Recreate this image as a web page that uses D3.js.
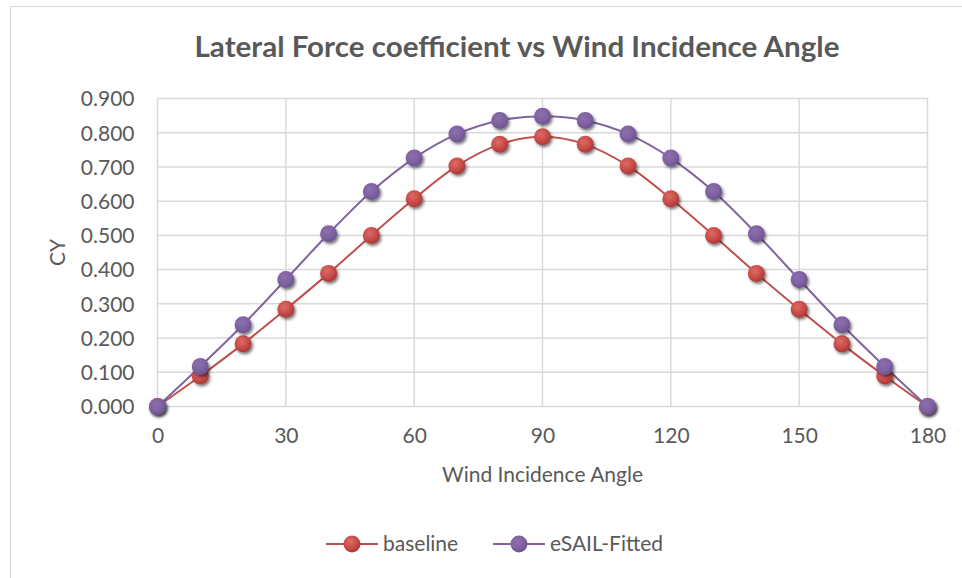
<!DOCTYPE html>
<html>
<head>
<meta charset="utf-8">
<script src="https://cdn.jsdelivr.net/npm/d3@7"></script>
<style>
  body { margin: 0; background: #fff; }
  text { font-family: Lato, "Open Sans", sans-serif; fill: #595959; }
</style>
</head>
<body>
<div id="chart"></div>
<script>
// chart data
var angles = [0, 10, 20, 30, 40, 50, 60, 70, 80, 90, 100, 110, 120, 130, 140, 150, 160, 170, 180];
var baseline = [0.000, 0.089, 0.183, 0.284, 0.389, 0.500, 0.607, 0.703, 0.766, 0.788, 0.766, 0.703, 0.607, 0.500, 0.389, 0.284, 0.183, 0.089, 0.000];
var esail = [0.000, 0.117, 0.239, 0.371, 0.505, 0.628, 0.726, 0.796, 0.836, 0.848, 0.836, 0.796, 0.726, 0.628, 0.505, 0.371, 0.239, 0.117, 0.000];
var xTicks = [0, 30, 60, 90, 120, 150, 180];
var yTicks = [0, 0.1, 0.2, 0.3, 0.4, 0.5, 0.6, 0.7, 0.8, 0.9];
var seriesNames = ["baseline", "eSAIL-Fitted"];

var svgWidth = 962;
var svgHeight = 578;

var margin = { top: 98.5, right: 34.5, bottom: 171.5, left: 157.5 };
var width = svgWidth - margin.left - margin.right;
var height = svgHeight - margin.top - margin.bottom;

var svg = d3.select("#chart")
  .append("svg")
  .attr("width", svgWidth)
  .attr("height", svgHeight);

// outer chart border (runs off the picture on the right/bottom)
svg.append("rect")
  .attr("x", 10.5)
  .attr("y", 6.5)
  .attr("width", 1000)
  .attr("height", 620)
  .attr("fill", "none")
  .attr("stroke", "#d9d9d9")
  .attr("stroke-width", 1);

var defs = svg.append("defs");

// soft drop shadow for markers
var shadow = defs.append("filter")
  .attr("id", "shadow")
  .attr("x", "-50%").attr("y", "-50%")
  .attr("width", "200%").attr("height", "200%");
shadow.append("feDropShadow")
  .attr("dx", 1.5).attr("dy", 2)
  .attr("stdDeviation", 1.6)
  .attr("flood-color", "#000")
  .attr("flood-opacity", 0.55);

var colors = [
  { line: "#c0504d", light: "#de6a66", mid: "#c94d49", dark: "#a83a37" },
  { line: "#8064a2", light: "#8c70ad", mid: "#7f62a2", dark: "#6e5391" }
];

colors.forEach(function(c, i) {
  var g = defs.append("radialGradient")
    .attr("id", "grad" + i)
    .attr("cx", "40%").attr("cy", "35%").attr("r", "65%");
  g.append("stop").attr("offset", "0%").attr("stop-color", c.light);
  g.append("stop").attr("offset", "60%").attr("stop-color", c.mid);
  g.append("stop").attr("offset", "100%").attr("stop-color", c.dark);
});

var chartGroup = svg.append("g")
  .attr("transform", `translate(${margin.left}, ${margin.top})`);

var xScale = d3.scaleLinear()
  .domain([0, 180])
  .range([0, width]);

var yScale = d3.scaleLinear()
  .domain([0, 0.9])
  .range([height, 0]);

// gridlines
chartGroup.append("g")
  .selectAll("line")
  .data(yTicks)
  .enter()
  .append("line")
  .attr("x1", 0)
  .attr("x2", width)
  .attr("y1", d => yScale(d))
  .attr("y2", d => yScale(d))
  .attr("stroke", "#d9d9d9")
  .attr("stroke-width", 1.5);

chartGroup.append("g")
  .selectAll("line")
  .data(xTicks)
  .enter()
  .append("line")
  .attr("x1", d => xScale(d))
  .attr("x2", d => xScale(d))
  .attr("y1", 0)
  .attr("y2", height)
  .attr("stroke", "#d9d9d9")
  .attr("stroke-width", 1.5);

// axes (labels only, Excel style)
var xAxis = d3.axisBottom(xScale).tickValues(xTicks).tickSize(0).tickPadding(22);
var yAxis = d3.axisLeft(yScale).tickValues(yTicks).tickSize(0).tickPadding(23).tickFormat(d3.format(".3f"));

var xAxisG = chartGroup.append("g")
  .attr("transform", `translate(0, ${height})`)
  .call(xAxis);
var yAxisG = chartGroup.append("g")
  .call(yAxis);

[xAxisG, yAxisG].forEach(function(g) {
  g.select(".domain").remove();
  g.selectAll("text")
    .attr("font-family", "Lato, 'Open Sans', sans-serif")
    .attr("font-size", "21px")
    .attr("fill", "#595959");
});
yAxisG.selectAll("text").attr("dy", "0.35em");

// lines and markers
var seriesData = [baseline, esail];

var line = d3.line()
  .x((d, i) => xScale(angles[i]))
  .y(d => yScale(d))
  .curve(d3.curveCardinal.tension(0));

seriesData.forEach(function(values, s) {
  chartGroup.append("path")
    .datum(values)
    .attr("fill", "none")
    .attr("stroke", colors[s].line)
    .attr("stroke-width", 2)
    .attr("d", line);
});

seriesData.forEach(function(values, s) {
  chartGroup.append("g")
    .selectAll("circle")
    .data(values)
    .enter()
    .append("circle")
    .attr("cx", (d, i) => xScale(angles[i]))
    .attr("cy", d => yScale(d))
    .attr("r", 8.5)
    .attr("fill", "url(#grad" + s + ")")
    .attr("filter", "url(#shadow)");
});

// title
svg.append("text")
  .attr("x", 517)
  .attr("y", 57)
  .attr("text-anchor", "middle")
  .attr("font-size", "28px")
  .attr("font-weight", "bold")
  .attr("textLength", 645)
  .attr("lengthAdjust", "spacingAndGlyphs")
  .text("Lateral Force coefficient vs Wind Incidence Angle");

// axis titles
chartGroup.append("text")
  .attr("transform", "rotate(-90)")
  .attr("x", 0 - (height / 2))
  .attr("y", -93)
  .attr("text-anchor", "middle")
  .attr("font-size", "21px")
  .text("CY");

chartGroup.append("text")
  .attr("transform", `translate(${width / 2}, ${height + 75})`)
  .attr("text-anchor", "middle")
  .attr("font-size", "21px")
  .text("Wind Incidence Angle");

// legend
var legendItems = [
  { x: 326, textX: 383 },
  { x: 493, textX: 550 }
];
var legendY = 544;

legendItems.forEach(function(item, s) {
  var lg = svg.append("g");
  lg.append("line")
    .attr("x1", item.x)
    .attr("x2", item.x + 52)
    .attr("y1", legendY)
    .attr("y2", legendY)
    .attr("stroke", colors[s].line)
    .attr("stroke-width", 2);
  lg.append("circle")
    .attr("cx", item.x + 26)
    .attr("cy", legendY)
    .attr("r", 8.5)
    .attr("fill", "url(#grad" + s + ")");
  lg.append("text")
    .attr("x", item.textX)
    .attr("y", legendY)
    .attr("dy", "0.35em")
    .attr("font-size", "21px")
    .text(seriesNames[s]);
});
</script>
</body>
</html>
